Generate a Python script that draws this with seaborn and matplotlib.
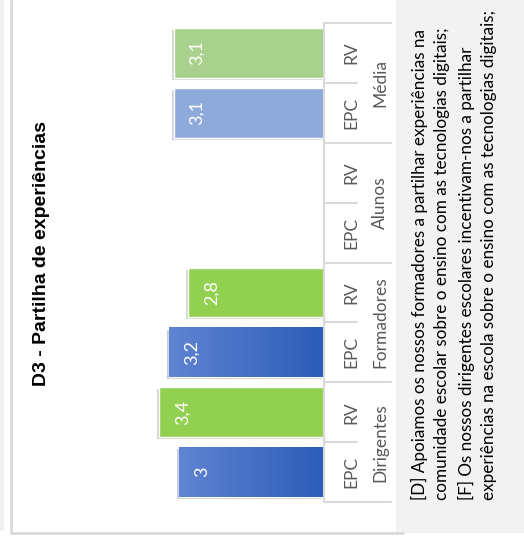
import numpy as np
import pandas as pd
import matplotlib
matplotlib.use("Agg")
import matplotlib.pyplot as plt
import matplotlib.patheffects as pe
from matplotlib.colors import LinearSegmentedColormap
from matplotlib.patches import Rectangle
import seaborn as sns

# ---------------------------------------------------------------------------
# Data
# ---------------------------------------------------------------------------
grupos = ["Dirigentes", "Formadores", "Alunos", "Média"]
series = ["EPC", "RV"]
valores_epc = [3.0, 3.2, np.nan, 3.1]
valores_rv = [3.4, 2.8, np.nan, 3.1]
titulo = "D3 - Partilha de experiências"
nota = ("[D] Apoiamos os nossos formadores a partilhar experiências na\n"
        "comunidade escolar sobre o ensino com as tecnologias digitais;\n"
        "[F] Os nossos dirigentes escolares incentivam-nos a partilhar\n"
        "experiências na escola sobre o ensino com as tecnologias digitais;")

# one slot per (grupo, serie); top of the picture = Média RV
rows = []
for g, e, r in zip(grupos, valores_epc, valores_rv):
    rows.append({"grupo": g, "serie": "EPC", "slot": f"{g} EPC", "valor": e})
    rows.append({"grupo": g, "serie": "RV", "slot": f"{g} RV", "valor": r})
df = pd.DataFrame(rows)
order = list(df["slot"])[::-1]

cores = {
    "Dirigentes EPC": "#3d69c2", "Dirigentes RV": "#92d050",
    "Formadores EPC": "#3d69c2", "Formadores RV": "#92d050",
    "Alunos EPC": "#3d69c2", "Alunos RV": "#92d050",
    "Média EPC": "#8eaadb", "Média RV": "#a9d18e",
}
gradiente = LinearSegmentedColormap.from_list("epc", ["#5f84d2", "#2c5cb8"])
CINZA = "#d9d9d9"
TEXTO = "#595959"

sns.set_style("white")
plt.rcParams["font.family"] = ["Lato", "DejaVu Sans"]

W, H = 524, 539
fig = plt.figure(figsize=(W / 100, H / 100), dpi=100)
fig.patch.set_facecolor("white")

# background pieces: left strip, frame lines, note box
fig.patches.append(Rectangle((0, 8 / H), 4 / W, 1 - 8 / H, transform=fig.transFigure,
                             facecolor="#f2f2f2", edgecolor="none", zorder=0))
fig.patches.append(Rectangle((396 / W, 6 / H), 1 - 396 / W, 1 - 6 / H, transform=fig.transFigure,
                             facecolor="#f2f2f2", edgecolor="none", zorder=0))
fig.lines.append(plt.Line2D([11 / W, 11 / W], [6 / H, 1], transform=fig.transFigure,
                            color=CINZA, lw=2))
fig.lines.append(plt.Line2D([11 / W, 403 / W], [6 / H, 6 / H], transform=fig.transFigure,
                            color=CINZA, lw=2))

# axes: baseline at x=324 px, 48.4 px per unit, slots from y=23 to 502 px
x_left, x_base = 60, 324
ax = fig.add_axes([x_left / W, (H - 502) / H, (x_base - x_left) / W, 479 / H])
ax.patch.set_alpha(0)

sns.barplot(data=df.dropna(), x="valor", y="slot", hue="slot", order=order,
            hue_order=order, palette=cores, orient="h", width=0.83,
            legend=False, saturation=1, ax=ax)

ax.set_xlim((x_base - x_left) / 48.4, 0)
ax.set_ylim(len(order) - 0.5, -0.5)

pos = {s: i for i, s in enumerate(order)}
for p in list(ax.patches):
    yc = p.get_y() + p.get_height() / 2
    slot = order[int(round(yc))]
    p.set_path_effects([pe.SimplePatchShadow(offset=(-1.5, -1.5), alpha=0.25, rho=0.5),
                        pe.Normal()])
    if slot in ("Dirigentes EPC", "Formadores EPC"):
        val = p.get_width()
        im = ax.imshow(np.linspace(0, 1, 64).reshape(1, -1), cmap=gradiente,
                       extent=(val, 0, p.get_y() + p.get_height(), p.get_y()),
                       aspect="auto", zorder=p.get_zorder() + 0.1)
        im.set_clip_path(p)

ax.set_xlim((x_base - x_left) / 48.4, 0)
ax.set_ylim(len(order) - 0.5, -0.5)

# value labels, white, near the outer end of each bar
for _, r in df.dropna().iterrows():
    txt = f"{r['valor']:g}".replace(".", ",")
    ax.text(r["valor"] - 0.475, pos[r["slot"]], txt, rotation=90, color="white",
            ha="center", va="center", fontsize=13, zorder=5)

# category axis on the right side
ax.set_xlabel("")
ax.set_ylabel("")
ax.set_xticks([])
ax.set_yticks(range(len(order)))
ax.set_yticklabels([s.split()[-1] for s in order])
ax.yaxis.tick_right()
ax.tick_params(axis="y", length=0, pad=14, labelsize=12.5, labelcolor=TEXTO)
for lab in ax.get_yticklabels():
    lab.set_rotation(90)
    lab.set_va("center")

for s in ["top", "left", "bottom", "right"]:
    ax.spines[s].set_visible(False)
tr = ax.get_yaxis_transform()
x_ax = lambda px: (px - x_left) / (x_base - x_left)
ax.plot([1, 1], [-0.5, len(order) - 0.5], transform=tr, color=CINZA, lw=1.5, clip_on=False)
for b in np.arange(-0.5, len(order), 1.0):
    end = x_ax(391) if int(b + 0.5) % 2 == 0 else x_ax(357)
    ax.plot([1, end], [b, b], transform=tr, color=CINZA, lw=1.5, clip_on=False)

for g in grupos:
    yc = (pos[f"{g} EPC"] + pos[f"{g} RV"]) / 2
    ax.text(x_ax(380), yc, g, transform=tr, rotation=90, ha="center", va="center",
            fontsize=12.5, color=TEXTO)

fig.text(42 / W, 1 - 254 / H, titulo, rotation=90, ha="center", va="center",
         fontsize=14, fontweight="bold", family=["Liberation Sans", "DejaVu Sans"],
         color="black")

fig.text(454 / W, 1 - 500 / H, nota, rotation=90, ha="center", va="bottom",
         multialignment="left", fontsize=12.3, color="black", linespacing=1.5)

fig.savefig("out.png", dpi=100)
